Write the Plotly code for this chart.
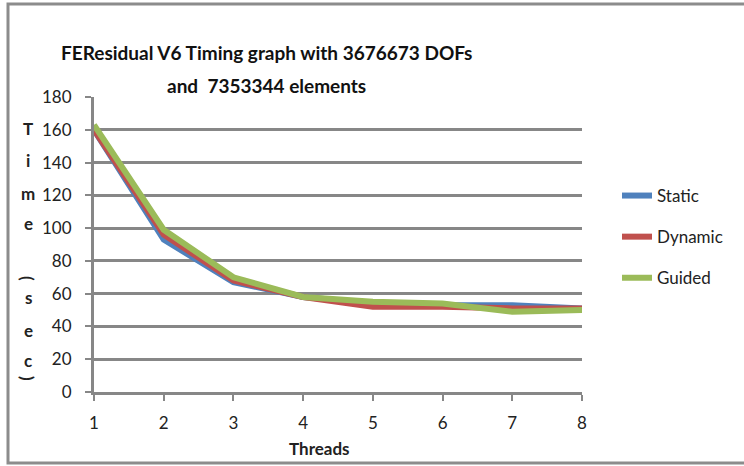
import plotly.graph_objects as go

threads = [1, 2, 3, 4, 5, 6, 7, 8]
static = [160, 93, 67, 58, 54, 53, 53, 51]
dynamic = [160, 96, 68, 58, 52, 52, 51, 51]
guided = [163, 99, 70, 58, 55, 54, 49, 50]
series_names = ["Static", "Dynamic", "Guided"]
colors = ["#4F81BD", "#C0504D", "#9BBB59"]
y_ticks = [0, 20, 40, 60, 80, 100, 120, 140, 160, 180]

W, H = 744, 466
L, R, T, B = 94, 162, 97, 74
PW, PH = W - L - R, H - T - B


def px(x):
    return (x - L) / PW


def py(y):
    return (H - B - y) / PH


fig = go.Figure()
for name, vals, c in zip(series_names, [static, dynamic, guided], colors):
    fig.add_trace(go.Scatter(x=threads, y=vals, mode="lines", name=name,
                             legendgroup=name,
                             line=dict(color=c, width=6)))

fig.update_layout(
    width=W, height=H,
    margin=dict(l=L, r=R, t=T, b=B),
    paper_bgcolor="white", plot_bgcolor="white",
    font=dict(family="Lato, Carlito, sans-serif", size=17, color="#222"),
    showlegend=True,
    legend=dict(x=px(617), y=py(178), xanchor="left", yanchor="top",
                font=dict(size=17, color="#222"), tracegroupgap=16,
                bgcolor="rgba(0,0,0,0)"),
    xaxis=dict(range=[1, 8], tickvals=threads, showgrid=False,
               showline=True, linecolor="#878787", linewidth=3,
               ticks="outside", ticklen=6, tickwidth=2, tickcolor="#878787",
               ticklabelstandoff=8, zeroline=False),
    yaxis=dict(range=[0, 180], tickvals=y_ticks, showgrid=True,
               gridcolor="#878787", gridwidth=3,
               showline=True, linecolor="#878787", linewidth=3,
               ticks="outside", ticklen=6, tickwidth=2, tickcolor="#878787",
               ticklabelstandoff=10, zeroline=False),
)

# title (two lines)
fig.add_annotation(text="<b>FEResidual V6 Timing graph with 3676673 DOFs</b>",
                   x=px(266), y=py(53), xref="paper", yref="paper",
                   xanchor="center", yanchor="middle",
                   showarrow=False, font=dict(size=19, color="#111"))
fig.add_annotation(text="<b>and  7353344 elements</b>",
                   x=px(266), y=py(86), xref="paper", yref="paper",
                   xanchor="center", yanchor="middle",
                   showarrow=False, font=dict(size=19, color="#111"))

# x-axis title
fig.add_annotation(text="<b>Threads</b>", x=px(319), y=py(448),
                   xref="paper", yref="paper", xanchor="center", yanchor="middle",
                   showarrow=False, font=dict(size=17, color="#222"))

# stacked y-axis title
letters = [("T", 128, 0), ("i", 160, 0), ("m", 193, 0), ("e", 223, 0),
           ("(", 278, 90), ("s", 297, 0), ("e", 330, 0), ("c", 360, 0), (")", 378, 90)]
for ch, yy, ang in letters:
    fig.add_annotation(text="<b>%s</b>" % ch, x=px(28), y=py(yy),
                       xref="paper", yref="paper", showarrow=False,
                       xanchor="center", yanchor="middle",
                       textangle=ang, font=dict(size=17, color="#222"))

# outer frame
fig.add_shape(type="rect", xref="paper", yref="paper",
              x0=px(8), x1=px(760), y0=py(463), y1=py(4),
              line=dict(color="#8c8c8c", width=3), layer="below")

fig.write_html("out.html")
